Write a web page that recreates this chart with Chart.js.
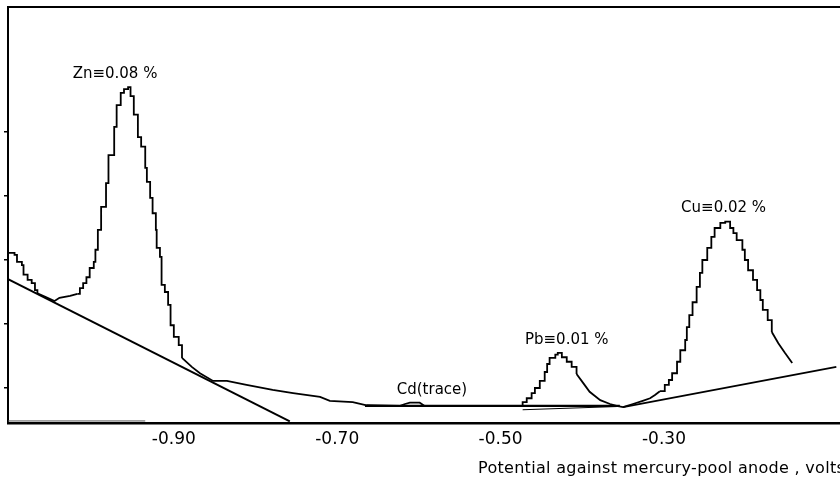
<!DOCTYPE html>
<html><head><meta charset="utf-8">
<script src="https://cdn.jsdelivr.net/npm/chart.js@4/dist/chart.umd.min.js"></script>
<style>html,body{margin:0;padding:0;background:#fff;overflow:hidden}#wrap{width:840px;height:490px}</style>
</head><body><div id="wrap"><canvas id="c" width="840" height="490"></canvas></div>
<script>
// ---- data (potential in volts vs mercury-pool anode, current in arbitrary units) ----
const xTickValues = [-0.90, -0.70, -0.50, -0.30];
const yTickValues = [0, 1, 2, 3, 4];
const xRange = [-1.103, -0.0845];
const yRange = [-0.547, 5.953];

const leftShoulder = [[-1.103,2.11],[-1.095,2.08],[-1.092,1.97],[-1.086,1.92],[-1.084,1.77],[-1.079,1.69],[-1.074,1.64],[-1.070,1.53],[-1.067,1.48]];
const shoulderValley = [[-1.067,1.48],[-1.058,1.43],[-1.046,1.36],[-1.040,1.41],[-1.027,1.44],[-1.018,1.47]];
const znPeak = [[-1.018,1.47],[-1.015,1.56],[-1.011,1.64],[-1.007,1.73],[-1.003,1.875],[-0.998,1.97],[-0.996,2.16],[-0.993,2.47],[-0.989,2.83],[-0.983,3.20],[-0.980,3.64],[-0.973,4.08],[-0.970,4.42],[-0.965,4.61],[-0.961,4.67],[-0.956,4.70],[-0.953,4.56],[-0.949,4.27],[-0.944,3.92],[-0.940,3.77],[-0.935,3.44],[-0.933,3.22],[-0.929,2.97],[-0.926,2.73],[-0.922,2.47],[-0.921,2.19],[-0.917,2.05],[-0.915,1.61],[-0.911,1.50],[-0.907,1.30],[-0.904,0.98],[-0.900,0.80],[-0.894,0.67],[-0.890,0.47]];
const znTail = [[-0.890,0.47],[-0.878,0.33],[-0.868,0.23],[-0.852,0.11],[-0.835,0.11],[-0.811,0.05],[-0.779,-0.03],[-0.754,-0.08],[-0.721,-0.14],[-0.709,-0.20],[-0.681,-0.22],[-0.664,-0.27],[-0.623,-0.28],[-0.617,-0.25],[-0.611,-0.23],[-0.599,-0.23],[-0.593,-0.28],[-0.525,-0.28],[-0.476,-0.28]];
const pbPeak = [[-0.476,-0.28],[-0.473,-0.22],[-0.468,-0.16],[-0.462,-0.08],[-0.458,0.00],[-0.452,0.11],[-0.446,0.25],[-0.443,0.375],[-0.440,0.47],[-0.433,0.52],[-0.430,0.55],[-0.425,0.48],[-0.419,0.41],[-0.413,0.33],[-0.407,0.22]];
const pbTail = [[-0.407,0.22],[-0.399,0.08],[-0.391,-0.06],[-0.378,-0.19],[-0.366,-0.25],[-0.358,-0.28],[-0.350,-0.30],[-0.338,-0.25],[-0.326,-0.20],[-0.317,-0.16],[-0.311,-0.11],[-0.305,-0.05]];
const cuPeak = [[-0.305,-0.05],[-0.299,0.05],[-0.294,0.125],[-0.290,0.23],[-0.284,0.41],[-0.280,0.59],[-0.274,0.75],[-0.272,0.95],[-0.269,1.14],[-0.265,1.34],[-0.260,1.58],[-0.256,1.80],[-0.253,2.00],[-0.247,2.19],[-0.242,2.36],[-0.238,2.50],[-0.231,2.58],[-0.225,2.60],[-0.219,2.50],[-0.215,2.42],[-0.211,2.31],[-0.204,2.16],[-0.201,2.00],[-0.197,1.84],[-0.191,1.69],[-0.186,1.53],[-0.182,1.375],[-0.179,1.22],[-0.173,1.06],[-0.168,0.875]];
const cuTail = [[-0.168,0.875],[-0.160,0.70],[-0.152,0.55],[-0.143,0.39]];

const znBaseline = [[-1.103,1.70],[-0.758,-0.52]];
const midBaseline = [[-0.666,-0.28],[-0.354,-0.28]];
const pbBaseline = [[-0.473,-0.34],[-0.358,-0.29]];
const cuBaseline = [[-0.350,-0.30],[-0.089,0.33]];
const zeroLine = [[-1.103,-0.515],[-0.935,-0.515]];

const annoText = ['Zn\u22610.08 %', 'Cd(trace)', 'Pb\u22610.01 %', 'Cu\u22610.02 %'];
const annoX = [-0.972, -0.584, -0.419, -0.227];
const annoY = [4.91, -0.03, 0.75, 2.81];
const axisTitle = 'Potential against mercury-pool anode , volts';

// ---- chart ----
const pts = a => a.map(p => ({x: p[0], y: p[1]}));
const ds = (arr, o) => Object.assign({data: pts(arr), borderColor: '#000', borderWidth: 1.8, pointRadius: 0, fill: false, tension: 0, stepped: false}, o || {});

const annoPlugin = {
  id: 'anno',
  afterDraw(chart) {
    const {ctx, chartArea} = chart;
    const xs = chart.scales.x, ys = chart.scales.y;
    ctx.save();
    ctx.fillStyle = '#000';
    ctx.font = '15px "DejaVu Sans"';
    ctx.textAlign = 'center';
    ctx.textBaseline = 'middle';
    annoText.forEach((t, i) => ctx.fillText(t, xs.getPixelForValue(annoX[i]), ys.getPixelForValue(annoY[i])));
    ctx.textAlign = 'left';
    ctx.font = '16px "DejaVu Sans"';
    if ('letterSpacing' in ctx) ctx.letterSpacing = '0.3px';
    ctx.fillText(axisTitle, chartArea.left + 470, chartArea.bottom + 46);
    ctx.restore();
  }
};

new Chart(document.getElementById('c'), {
  type: 'line',
  data: {
    datasets: [
      ds(leftShoulder, {stepped: 'before'}),
      ds(shoulderValley),
      ds(znPeak, {stepped: 'before'}),
      ds(znTail),
      ds(pbPeak, {stepped: 'before'}),
      ds(pbTail),
      ds(cuPeak, {stepped: 'before'}),
      ds(cuTail),
      ds(znBaseline, {borderWidth: 2}),
      ds(midBaseline, {borderWidth: 2.4}),
      ds(pbBaseline, {borderWidth: 1}),
      ds(cuBaseline, {borderWidth: 1.8}),
      ds(zeroLine, {borderWidth: 1, borderColor: '#555'})
    ]
  },
  options: {
    responsive: false,
    animation: false,
    devicePixelRatio: 1,
    layout: {padding: {top: 7, left: 0, right: 0, bottom: 0}},
    plugins: {legend: {display: false}, tooltip: {enabled: false}},
    scales: {
      x: {
        type: 'linear', position: 'bottom', min: xRange[0], max: xRange[1],
        afterBuildTicks: s => { s.ticks = xTickValues.map(v => ({value: v})); },
        ticks: {color: '#000', font: {family: 'DejaVu Sans', size: 17}, padding: 6, maxRotation: 0, autoSkip: false,
          callback: v => v.toFixed(2)},
        grid: {display: false, drawTicks: false},
        border: {display: true, color: '#000', width: 2.5},
        afterFit: s => { s.height = 67; }
      },
      xTop: {
        type: 'linear', position: 'top', min: xRange[0], max: xRange[1],
        ticks: {display: false}, grid: {display: false, drawTicks: false},
        border: {display: true, color: '#000', width: 2},
        afterFit: s => { s.height = 0; }
      },
      y: {
        type: 'linear', position: 'left', min: yRange[0], max: yRange[1],
        afterBuildTicks: s => { s.ticks = yTickValues.map(v => ({value: v})); },
        ticks: {display: false},
        grid: {display: true, drawOnChartArea: false, drawTicks: true, tickLength: 4, color: '#000', lineWidth: 1.5},
        border: {display: true, color: '#000', width: 2},
        afterFit: s => { s.width = 8; }
      }
    }
  },
  plugins: [annoPlugin]
});
</script>
</body></html>
